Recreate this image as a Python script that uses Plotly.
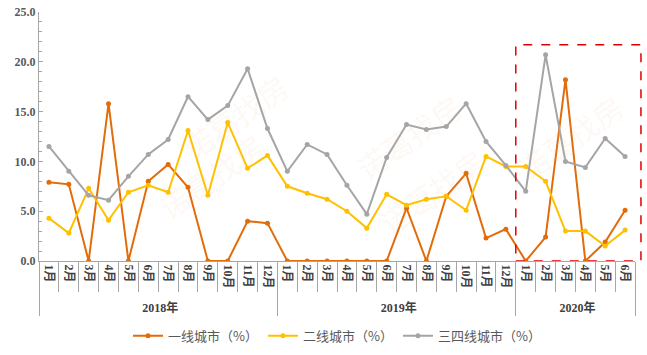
import plotly.graph_objects as go

years = ["2018年"] * 12 + ["2019年"] * 12 + ["2020年"] * 6
months = [f"{m}月" for m in range(1, 13)] * 2 + [f"{m}月" for m in range(1, 7)]

tier1 = [7.9, 7.7, 0, 15.8, 0, 8.0, 9.7, 7.4, 0, 0, 4.0, 3.8,
         0, 0, 0, 0, 0, 0, 5.3, 0, 6.5, 8.8, 2.3, 3.2,
         0, 2.4, 18.2, 0, 1.9, 5.1]
tier2 = [4.3, 2.8, 7.3, 4.1, 6.9, 7.6, 6.9, 13.1, 6.6, 13.9, 9.3, 10.6,
         7.5, 6.8, 6.2, 5.0, 3.3, 6.7, 5.6, 6.2, 6.5, 5.1, 10.5, 9.5,
         9.5, 8.0, 3.0, 3.0, 1.5, 3.1]
tier34 = [11.5, 9.0, 6.6, 6.1, 8.5, 10.7, 12.2, 16.5, 14.2, 15.6, 19.3, 13.3,
          9.0, 11.7, 10.7, 7.6, 4.7, 10.4, 13.7, 13.2, 13.5, 15.8, 12.0, 9.6,
          7.0, 20.7, 10.0, 9.4, 12.3, 10.5]

names = ["一线城市（%）", "二线城市（%）", "三四线城市（%）"]
colors = ["#E36C0A", "#FFC000", "#A5A5A5"]

n = len(months)

fig = go.Figure()
for name, vals, col in zip(names, [tier1, tier2, tier34], colors):
    fig.add_trace(go.Scatter(
        x=[years, months], y=vals, name=name, mode="lines+markers",
        line=dict(color=col, width=2), marker=dict(color=col, size=5),
    ))

# red dashed highlight box around 2020 (starts at the 2019/2020 boundary)
x0_frac = (n - 6) / n
fig.add_shape(type="rect", xref="paper", yref="y", x0=x0_frac, x1=1.01, y0=0, y1=21.7,
              line=dict(color="#E00000", width=1.5, dash="dash"), fillcolor="rgba(0,0,0,0)",
              layer="above")

# faint watermarks
for (px, py) in [(0.22, 0.80), (0.62, 0.72), (0.18, 0.12), (0.66, 0.06), (1.0, 0.72)]:
    fig.add_annotation(xref="paper", yref="paper", x=px, y=py, text="诺葛找房",
                       showarrow=False, textangle=-35,
                       font=dict(size=30, color="rgba(250,190,140,0.10)",
                                 family="Noto Sans CJK SC"))

serif = "Liberation Serif, Noto Sans CJK SC"
fig.update_layout(
    width=647, height=355,
    margin=dict(l=39, r=12, t=12, b=94, autoexpand=False),
    paper_bgcolor="white", plot_bgcolor="white",
    showlegend=True,
    legend=dict(orientation="h", x=0.5, xanchor="center", y=-0.30, yanchor="middle",
                font=dict(size=13, color="#595959", family="Noto Sans CJK SC"),
                itemwidth=30, traceorder="normal"),
    xaxis=dict(
        type="multicategory", range=[-0.5, n - 0.5], autorange=False,
        showline=True, linecolor="#A6A6A6", linewidth=1,
        ticks="outside", tickson="boundaries", ticklen=30, tickcolor="#A6A6A6",
        tickangle=90, showgrid=False, automargin=False,
        dividercolor="#A6A6A6", dividerwidth=1,
        tickfont=dict(size=12, color="#404040", family=serif, weight="bold"),
    ),
    yaxis=dict(
        range=[0, 25], dtick=5, tickformat=".1f", showgrid=False, zeroline=False,
        showline=True, linecolor="#A6A6A6", linewidth=1,
        ticks="inside", ticklen=4, tickcolor="#A6A6A6",
        minor=dict(dtick=1, ticks="inside", ticklen=3, tickcolor="#A6A6A6"),
        tickfont=dict(size=12, color="#595959", family=serif, weight="bold"),
        automargin=False,
    ),
)

fig.write_html("out.html")
